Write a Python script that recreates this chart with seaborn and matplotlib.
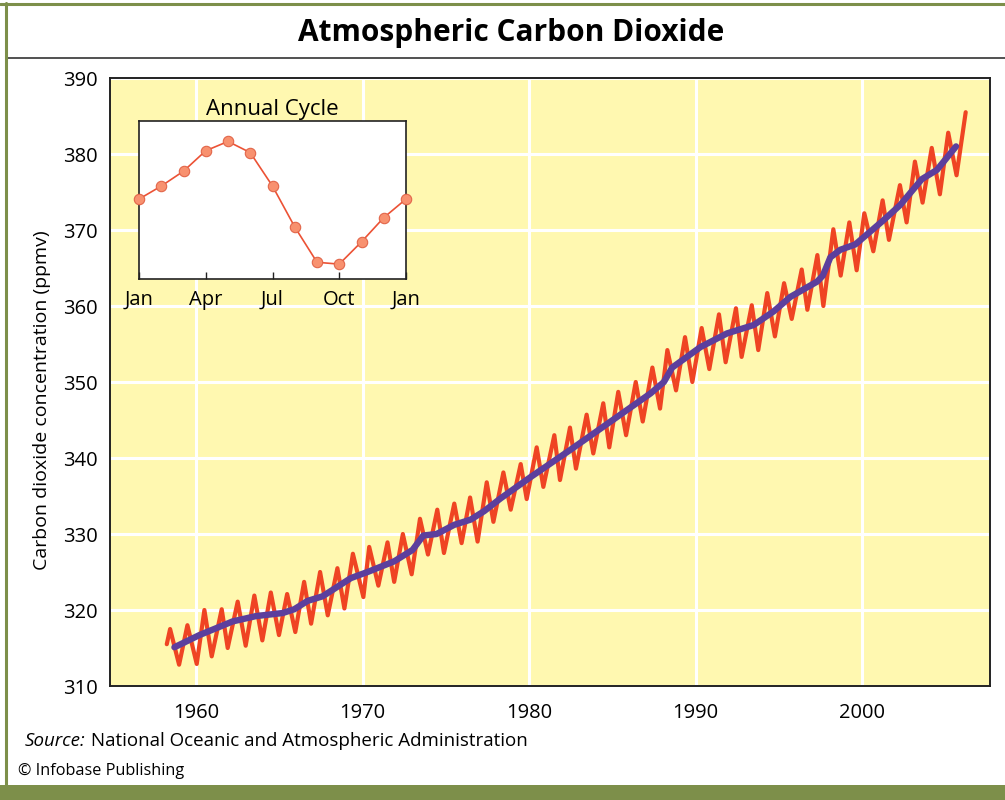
import matplotlib
matplotlib.use("Agg")
import matplotlib.pyplot as plt
import seaborn as sns
import pandas as pd
from matplotlib.lines import Line2D
from matplotlib.patches import Rectangle

# Serie con ciclo estacional (máximos y mínimos anuales)
fechas_ciclo = [
    1958.24, 1958.44, 1958.98, 1959.48, 1960.04, 1960.50, 1960.94, 1961.54, 1961.90,
    1962.50, 1962.98, 1963.50, 1963.98, 1964.49, 1964.98, 1965.47, 1965.96, 1966.49,
    1966.91, 1967.45, 1967.91, 1968.49, 1968.91, 1969.42, 1970.05, 1970.40, 1970.95,
    1971.50, 1971.90, 1972.42, 1972.95, 1973.45, 1973.93, 1974.49, 1974.89, 1975.51,
    1975.95, 1976.46, 1976.91, 1977.46, 1977.86, 1978.46, 1978.90, 1979.50, 1979.86,
    1980.46, 1980.86, 1981.52, 1981.86, 1982.46, 1982.82, 1983.46, 1983.86, 1984.46,
    1984.82, 1985.36, 1985.83, 1986.41, 1986.83, 1987.41, 1987.87, 1988.31, 1988.83,
    1989.37, 1989.81, 1990.37, 1990.83, 1991.41, 1991.81, 1992.43, 1992.77, 1993.38,
    1993.77, 1994.31, 1994.77, 1995.32, 1995.78, 1996.38, 1996.72, 1997.32, 1997.68,
    1998.28, 1998.72, 1999.24, 1999.68, 2000.14, 2000.68, 2001.24, 2001.62, 2002.28,
    2002.68, 2003.18, 2003.64, 2004.19, 2004.68, 2005.18, 2005.68, 2006.23,
]
co2_ciclo = [
    315.5, 317.5, 312.8, 318.0, 312.9, 320.0, 313.9, 320.1, 315.0,
    321.1, 315.3, 321.9, 316.0, 322.3, 316.7, 322.1, 317.1, 323.7,
    318.2, 325.0, 319.3, 325.5, 320.2, 327.4, 321.7, 328.3, 323.2,
    328.9, 323.7, 330.0, 324.7, 332.0, 327.3, 333.2, 327.5, 334.0,
    328.8, 334.8, 329.0, 336.8, 331.6, 338.1, 333.2, 339.2, 334.6,
    341.4, 336.2, 343.0, 337.1, 344.0, 338.6, 345.7, 340.6, 347.2,
    341.4, 348.7, 343.0, 350.0, 344.8, 351.9, 346.5, 354.2, 348.9,
    355.9, 350.0, 357.1, 351.7, 358.9, 352.6, 359.7, 353.3, 360.1,
    354.2, 361.7, 356.0, 363.0, 358.3, 364.8, 359.5, 366.7, 360.0,
    370.1, 364.0, 371.0, 364.7, 372.2, 367.2, 373.9, 368.7, 375.9,
    371.0, 379.0, 373.6, 380.8, 374.7, 382.8, 377.2, 385.5,
]

# Tendencia suavizada
fechas_tendencia = [
    1958.7, 1960.2, 1962.2, 1963.6, 1965.2, 1965.9, 1966.7, 1967.6, 1969.3, 1970.3,
    1971.9, 1973.0, 1973.65, 1974.45, 1975.5, 1976.5, 1977.3, 1978.3, 1980.1, 1982.5,
    1984.9, 1987.3, 1988.1, 1988.6, 1990.3, 1991.9, 1993.5, 1994.7, 1995.7, 1997.3,
    1997.65, 1998.1, 1998.7, 1999.6, 2001.3, 2002.3, 2003.6, 2004.5, 2005.65,
]
co2_tendencia = [
    315.1, 316.7, 318.5, 319.2, 319.6, 320.1, 321.2, 321.8, 324.2, 325.0,
    326.4, 327.9, 329.8, 330.0, 331.2, 331.9, 333.0, 334.7, 337.5, 341.1,
    344.8, 348.5, 350.0, 351.9, 354.6, 356.4, 357.5, 359.3, 361.2, 363.2,
    364.0, 366.4, 367.4, 368.1, 371.3, 373.3, 376.7, 377.9, 381.0,
]

# Ciclo anual (anomalía en ppm, de enero a enero)
anomalia_mensual = [0.0, 0.7, 1.5, 2.6, 3.1, 2.5, 0.7, -1.5, -3.4, -3.5, -2.3, -1.0, 0.0]
etiquetas_meses = ["Jan", "Apr", "Jul", "Oct", "Jan"]

anios_ticks = [1960, 1970, 1980, 1990, 2000]
ppm_ticks = [310, 320, 330, 340, 350, 360, 370, 380, 390]

amarillo = "#fff8b0"
rojo = "#ef4423"
morado = "#5c3f9d"
verde = "#7d8f4a"
oscuro = "#222222"

sns.set_style("darkgrid", {"axes.facecolor": amarillo, "grid.color": "white"})
plt.rcParams["font.family"] = ["Open Sans", "DejaVu Sans"]
plt.rcParams["text.color"] = "black"
plt.rcParams["axes.labelcolor"] = "black"
plt.rcParams["xtick.color"] = "black"
plt.rcParams["ytick.color"] = "black"

W, H = 1005, 800
fig = plt.figure(figsize=(W / 100, H / 100), dpi=100)
fig.patch.set_facecolor("white")

# Gráfico principal
ax = fig.add_axes([110 / W, 1 - 686 / H, 880 / W, 608 / H])
df_ciclo = pd.DataFrame({"anio": fechas_ciclo, "co2": co2_ciclo})
df_tend = pd.DataFrame({"anio": fechas_tendencia, "co2": co2_tendencia})
sns.lineplot(data=df_ciclo, x="anio", y="co2", ax=ax, color=rojo, linewidth=3,
             estimator=None, sort=False, zorder=3)
sns.lineplot(data=df_tend, x="anio", y="co2", ax=ax, color=morado, linewidth=4.6,
             estimator=None, sort=False, solid_capstyle="round", zorder=4)
ax.set_xlim(1954.83, 2007.69)
ax.set_ylim(310, 390)
ax.set_xticks(anios_ticks)
ax.set_yticks(ppm_ticks)
ax.grid(True, color="white", linewidth=2.2)
ax.tick_params(axis="both", length=0, labelsize=14.5, labelcolor="black")
ax.tick_params(axis="x", pad=12)
ax.tick_params(axis="y", pad=9)
ax.set_xlabel("")
ax.set_ylabel("")
for s in ax.spines.values():
    s.set_visible(True)
    s.set_color(oscuro)
    s.set_linewidth(1.4)

fig.text(42 / W, 1 - 400 / H, "Carbon dioxide concentration (ppmv)", rotation=90,
         ha="center", va="center", fontsize=14)

# Recuadro del ciclo anual
ax_in = fig.add_axes([139 / W, 1 - 279 / H, 267 / W, 158 / H])
ax_in.set_facecolor("white")
sns.lineplot(x=list(range(len(anomalia_mensual))), y=anomalia_mensual, ax=ax_in,
             color="#ec5235", linewidth=1.2, marker="o", markersize=7.5,
             markerfacecolor="#f8916f", markeredgecolor="#e2664a", markeredgewidth=0.8,
             clip_on=False, zorder=5)
ax_in.grid(False)
ax_in.set_xlim(0, 12)
ax_in.set_ylim(-4.3, 4.2)
ax_in.set_xticks([0, 3, 6, 9, 12])
ax_in.set_xticklabels(etiquetas_meses)
ax_in.set_yticks([])
ax_in.tick_params(axis="x", bottom=True, direction="in", length=5, width=1,
                  color=oscuro, labelcolor="black", labelsize=14.5, pad=8)
ax_in.set_title("Annual Cycle", fontsize=16, pad=4, color="black")
for s in ax_in.spines.values():
    s.set_visible(True)
    s.set_color(oscuro)
    s.set_linewidth(1.2)

# Título y marco
fig.text(511 / W, 1 - 33 / H, "Atmospheric Carbon Dioxide", ha="center", va="center",
         fontsize=21.5, fontweight="bold")
fig.add_artist(Line2D([6 / W, 1], [1 - 58 / H] * 2, color="#333333", linewidth=1.2))
fig.add_artist(Line2D([0, 1], [1 - 3.5 / H] * 2, color=verde, linewidth=2.2))
fig.add_artist(Line2D([6 / W] * 2, [0, 1 - 3 / H], color=verde, linewidth=2.2))
fig.add_artist(Rectangle((0, 0), 1, 15 / H, transform=fig.transFigure,
                         facecolor=verde, edgecolor="none"))

# Fuente
t_src = fig.text(25 / W, 1 - 741 / H, "Source:", ha="left", va="center",
                 fontsize=13.5, style="italic")
ax.annotate(" National Oceanic and Atmospheric Administration", xy=(1, 0),
            xycoords=t_src, ha="left", va="bottom", fontsize=13.5,
            annotation_clip=False)
fig.text(18 / W, 1 - 771 / H, "\u00a9 Infobase Publishing", ha="left", va="center",
         fontsize=11.7)

fig.savefig("out.png", dpi=100)
